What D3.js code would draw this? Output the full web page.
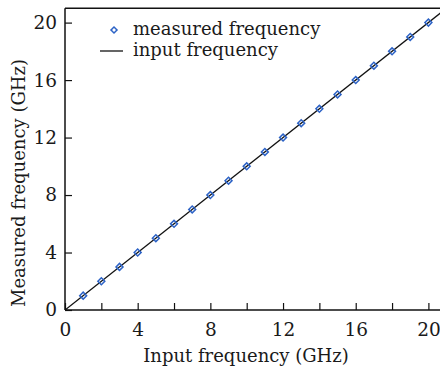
<!DOCTYPE html>
<html><head><meta charset="utf-8">
<script src="https://cdn.jsdelivr.net/npm/d3@7"></script>
<style>body{margin:0;background:#fff}svg{display:block}text{font-family:"DejaVu Serif",serif;fill:#1a1a1a}</style>
</head><body>
<svg id="c" width="440" height="371"></svg>
<script>
const inputFreq = [1,2,3,4,5,6,7,8,9,10,11,12,13,14,15,16,17,18,19,20];
const measuredFreq = [1,2,3,4,5,6,7,8,9,10,11,12,13,14,15,16,17,18,19,20];
const lineX = [0,21];
const xTicks = [0,2,4,6,8,10,12,14,16,18,20];
const xLabels = [0,4,8,12,16,20];
const yTicks = [0,4,8,12,16,20];
const legendLabels = ["measured frequency","input frequency"];
const xTitle = "Input frequency (GHz)";
const yTitle = "Measured frequency (GHz)";

const svg = d3.select("#c");
const x = d3.scaleLinear().domain([0,21]).range([65, 65+21*18.17]);
const y = d3.scaleLinear().domain([0,21]).range([310, 310-21*14.37]);
const blue = "#2d63c6";
const marker = d3.symbol().type(d3.symbolSquare).size(24);

svg.append("clipPath").attr("id","clip").append("rect").attr("x",65).attr("y",y(21)).attr("width",400).attr("height",310-y(21));

// line
svg.append("path").datum(lineX).attr("clip-path","url(#clip)")
  .attr("d", d3.line().x(d=>x(d)).y(d=>y(d)))
  .attr("stroke","#111").attr("stroke-width",1.3).attr("fill","none");

// markers
svg.append("g").selectAll("path").data(inputFreq).join("path")
  .attr("transform",(d,i)=>`translate(${x(d)},${y(measuredFreq[i])}) rotate(45)`)
  .attr("d", marker)
  .attr("fill","none").attr("stroke",blue).attr("stroke-width",1.5);

// axes
const xAxis = d3.axisBottom(x).tickValues(xTicks).tickSizeInner(-7).tickSizeOuter(0)
  .tickFormat(d=>xLabels.includes(d)?d:"");
const gx = svg.append("g").attr("transform","translate(0,310)").call(xAxis);
gx.select(".domain").attr("stroke","#111").attr("stroke-width",1.5).attr("d","M65,0H440");
gx.selectAll(".tick line").attr("stroke","#111").attr("stroke-width",1.2);
gx.selectAll(".tick text").attr("font-size",18.5).attr("y",13).attr("dy","0.71em").attr("font-family","DejaVu Serif").attr("fill","#1a1a1a");

const yAxis = d3.axisLeft(y).tickValues(yTicks).tickSizeInner(-7).tickSizeOuter(0).tickPadding(8);
const gy = svg.append("g").attr("transform","translate(65,0)").call(yAxis);
gy.select(".domain").attr("stroke","#111").attr("stroke-width",1.5).attr("d",`M0,310V${y(21)}`);
gy.selectAll(".tick line").attr("stroke","#111").attr("stroke-width",1.2);
gy.selectAll(".tick text").attr("font-size",18.5).attr("font-family","DejaVu Serif").attr("fill","#1a1a1a");

// top border
svg.append("line").attr("x1",65).attr("x2",440).attr("y1",y(21)).attr("y2",y(21)).attr("stroke","#111").attr("stroke-width",1.5);

// legend
svg.append("path").attr("transform","translate(114,30) rotate(45)")
  .attr("d", d3.symbol().type(d3.symbolSquare).size(18))
  .attr("fill","none").attr("stroke",blue).attr("stroke-width",1.5);
svg.append("line").attr("x1",100).attr("x2",123).attr("y1",51).attr("y2",51).attr("stroke","#111").attr("stroke-width",1.3);
svg.append("text").attr("x",133).attr("y",35).attr("font-size",18).text(legendLabels[0]);
svg.append("text").attr("x",133).attr("y",56).attr("font-size",18).text(legendLabels[1]);

// titles
svg.append("text").attr("x",246).attr("y",362).attr("text-anchor","middle").attr("font-size",18).text(xTitle);
svg.append("text").attr("transform","translate(25,183) rotate(-90)").attr("text-anchor","middle").attr("font-size",18).text(yTitle);
</script>
</body></html>
